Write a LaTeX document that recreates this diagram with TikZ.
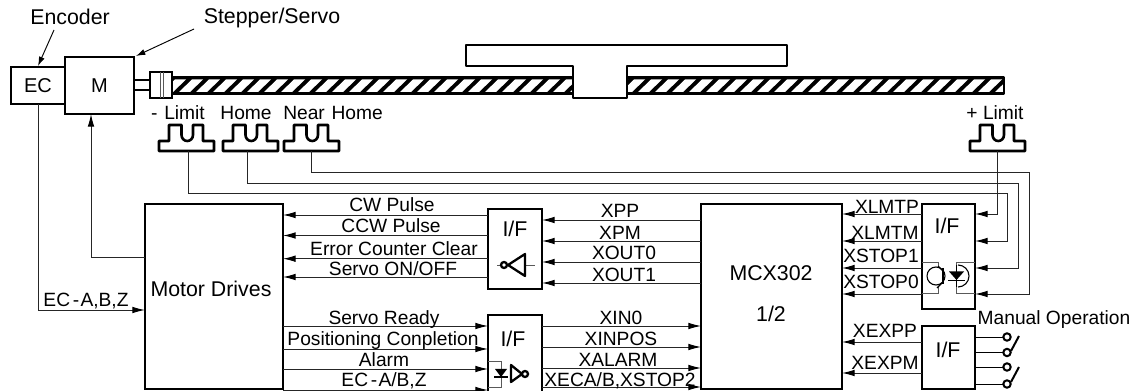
\documentclass[tikz,border=0pt]{standalone}
\usepackage{fontspec}
\setmainfont{Liberation Sans}
\usetikzlibrary{arrows.meta}
\newcommand\pxbox[6]{\node[blk,minimum width={(#4-#2)*0.75pt},minimum height={(#5-#3)*0.75pt}] (#1) at ({(#2+#4)/2},{(#3+#5)/2}) {#6};}
\newcommand\lab[4]{\node[txt] (#1) at (#2,#3) {#4};}
\newcommand\sensor[4]{%
 \draw[thk] (#2,#3+16) -- (#2,#3+26) -- (#2+55,#3+26) -- (#2+55,#3+16) -- (#2+44,#3+16) -- (#2+44,#3) -- (#2+34,#3)
 -- (#2+34,#3+10) arc[start angle=0,end angle=180,x radius=5.75,y radius=6] -- (#2+22.5,#3) -- (#2+10,#3) -- (#2+10,#3+16) -- cycle;
 \coordinate (#1) at (#4,#3+26);}
\tikzset{
 blk/.style={draw,line width=2.9*0.75pt,inner sep=0pt,outer sep=0pt,font=\fontsize{15}{15}\selectfont},
 thk/.style={draw,line width=2.6*0.75pt,line join=round},
 txt/.style={anchor=base,inner sep=0pt,font=\fontsize{14.4}{15}\selectfont},
 big/.style={anchor=base,inner sep=0pt,font=\fontsize{16}{16}\selectfont},
 wire/.style={line width=0.95*0.75pt,black!85},
 arr/.style={wire,-{Latex[length=9.5pt,width=5pt,black]}},
 thin/.style={line width=0.95*0.75pt,black!65},
}
\begin{document}
\begin{tikzpicture}[x=0.75pt,y=-0.75pt]
\useasboundingbox (0,0) rectangle (1138,391);
% screw
\begin{scope}
\clip (172,77) rectangle (1004,94);
\fill[black] (172,77) rectangle (1004,94);
\foreach \s in {0,...,50}{
 \fill[white] ({162+\s*17},92) -- ({175+\s*17},79.5) -- ({186+\s*17},79.5) -- ({173+\s*17},92) -- cycle;
}
\end{scope}
\draw[thk] (172,77.5) rectangle (1004,93.5);
% carriage
\draw[thk,fill=white] (466,45) -- (787,45) -- (787,66) -- (627,66) -- (627,98) -- (573,98) -- (573,66) -- (466,66) -- cycle;
% motor
\pxbox{ec}{11}{67}{65}{104}{EC}
\pxbox{m}{65}{57}{134}{114}{M}
\pxbox{cpl}{150}{72}{172}{98}{}
\draw[thin] (160,72) -- (160,98) (163,72) -- (163,98);
\draw[line width=1.8*0.75pt] (m.east |- 0,80) -- (cpl.west |- 0,80) (m.east |- 0,90) -- (cpl.west |- 0,90);
% top labels
\node[big] (lenc) at (70,25) {Encoder};
\node[big] (lsrv) at (272,24) {Stepper/Servo};
\coordinate (ecin) at (38,66);
\coordinate (encfrom) at (54,30);
\coordinate (mcorner) at (136,56);
\coordinate (srvfrom) at (194,29);
\draw[wire,black,-{Latex[length=7pt,width=4.5pt]}] (encfrom) -- (ecin);
\draw[wire,black,-{Latex[length=7pt,width=4.5pt]}] (srvfrom) -- (mcorner);
% sensor labels
\lab{ln}{178}{120}{-\hspace{5pt}Limit}
\lab{lh}{246}{120}{Home}
\lab{lnh}{333}{120}{Near\hspace{1pt} Home}
\lab{lp}{995}{120}{+ Limit}
\sensor{sa}{159}{125}{188}
\sensor{sb}{223}{125}{247}
\sensor{sc}{284}{125}{311}
\sensor{sd}{970}{125}{997}
% blocks
\pxbox{drv}{145}{204}{283}{389}{}
\node[big] (tdrv) at (211,297) {Motor Drives};
\pxbox{ifa}{488}{209}{542}{289}{}
\pxbox{ifb}{488}{315}{542}{395}{}
\pxbox{mcx}{701}{204}{842}{389}{}
\pxbox{ifc}{922}{204}{975}{309}{}
\pxbox{ifd}{922}{326}{975}{389}{}
\node[big] (t1) at (515,237) {I/F};
\node[big] (t2) at (513,347) {I/F};
\node[big] (t3) at (947,234) {I/F};
\node[big] (t4) at (948,358) {I/F};
\node[big] (tm) at (771,281) {MCX302};
\node[big] (tn) at (771,322) {1/2};
% motor wires
\draw[wire] (ec.south -| 38,0) -- (38,310);
\draw[arr] (38,310) -- (drv.west |- 0,310);
\draw[arr] (drv.west |- 0,257) -- (91,257) -- (m.south -| 91,0);
\lab{lab0}{86}{307}{EC\hspace{2pt}-\hspace{1pt}A,B,Z}
% signal wires
\foreach \y in {215,235.5,258.7,277}{\draw[arr] (ifa.west |- 0,\y) -- (drv.east |- 0,\y);}
\foreach \y in {220,241,262,283}{\draw[arr] (mcx.west |- 0,\y) -- (ifa.east |- 0,\y);}
\foreach \y in {326,349,369,390}{\draw[arr] (drv.east |- 0,\y) -- (ifb.west |- 0,\y);}
\foreach \y in {326,347,368,387}{\draw[arr] (ifb.east |- 0,\y) -- (mcx.west |- 0,\y);}
\foreach \y in {214,241,268,294}{\draw[arr] (ifc.west |- 0,\y) -- (mcx.east |- 0,\y);}
\foreach \y in {342,373}{\draw[arr] (ifd.west |- 0,\y) -- (mcx.east |- 0,\y);}
% sensor wires
\draw[arr] (sd) -- (997,214) -- (ifc.east |- 0,214);
\draw[arr] (sa) -- (188,193) -- (1007,193) -- (1007,241) -- (ifc.east |- 0,241);
\draw[arr] (sb) -- (247,183) -- (1018,183) -- (1018,268) -- (ifc.east |- 0,268);
\draw[arr] (sc) -- (311,172) -- (1029,172) -- (1029,294) -- (ifc.east |- 0,294);
% labels
\lab{a1}{392}{212}{CW Pulse}
\lab{a2}{391}{233}{CCW Pulse}
\lab{a3}{394}{256}{Error Counter Clear}
\lab{a4}{393}{276}{Servo ON/OFF}
\lab{b1}{384}{325}{Servo Ready}
\lab{b2}{383}{346}{Positioning Conpletion}
\lab{b3}{384}{367}{Alarm}
\lab{b4}{384}{386}{EC\hspace{2pt}-\hspace{1pt}A/B,Z}
\lab{c1}{620}{218}{XPP}
\lab{c2}{620}{240}{XPM}
\lab{c3}{624}{260}{XOUT0}
\lab{c4}{624}{282}{XOUT1}
\lab{d1}{621}{325}{XIN0}
\lab{d2}{621}{345}{XINPOS}
\lab{d3}{618}{367}{XALARM}
\lab{d4}{620}{387}{XECA/B,XSTOP2}
\lab{e1}{887}{214}{XLMTP}
\lab{e2}{885}{240}{XLMTM}
\lab{e3}{881}{263}{XSTOP1}
\lab{e4}{881}{289}{XSTOP0}
\lab{e5}{885}{338}{XEXPP}
\lab{e6}{885}{369}{XEXPM}
\lab{mo}{1054}{325}{Manual Operation}
% inverter 1
\draw[thin] (497,265) -- (535,265);
\draw[line width=2.3*0.75pt,fill=white,line join=round] (525,254) -- (525,276) -- (508,265) -- cycle;
\draw[line width=2.3*0.75pt,fill=white] (504,265) circle (3);
% opto + inverter 2
\draw[thin] (ifb.west |- 0,361) -- (501,361) -- (501,387) -- (ifb.west |- 0,387);
\fill (495,369) -- (507,369) -- (501,377) -- cycle;
\draw[line width=1.8*0.75pt] (494,377) -- (508,377);
\draw[line width=2.3*0.75pt,fill=white,line join=round] (511,365) -- (511,382) -- (522,374) -- cycle;
\draw[line width=2.3*0.75pt,fill=white] (525,374) circle (3);
% opto 3
\draw[thin] (ifc.west |- 0,262) -- (938,262) -- (938,267) (ifc.west |- 0,293) -- (938,293) -- (938,287);
\draw[thin] (ifc.east |- 0,262) -- (956,262) -- (956,293) -- (ifc.east |- 0,293);
\draw[line width=1.1*0.75pt] (936,276) circle (9);
\draw[line width=1.1*0.75pt] (958,265) arc[start angle=-90,end angle=90,radius=11];
\draw[line width=2.8*0.75pt] (943,268) -- (943,284);
\draw[line width=1.1*0.75pt] (938,266) -- (943,271) (937,288) -- (943,282);
\draw[line width=1.4*0.75pt] (956.5,265) -- (956.5,287);
\fill (949,271.5) -- (964,271.5) -- (956.5,280) -- cycle;
\draw[line width=1.8*0.75pt] (948,280.5) -- (965,280.5);
% switches
\foreach \y in {337,352.5,367,384}{
 \draw[wire,black] (ifd.east |- 0,\y) -- (1003,\y);
 \draw[line width=2*0.75pt] (1007,\y) circle (3.7);
}
\draw[line width=2*0.75pt] (1011,351) -- (1019,336);
\draw[line width=2*0.75pt] (1011,382) -- (1019,367);
\end{tikzpicture}
\end{document}
